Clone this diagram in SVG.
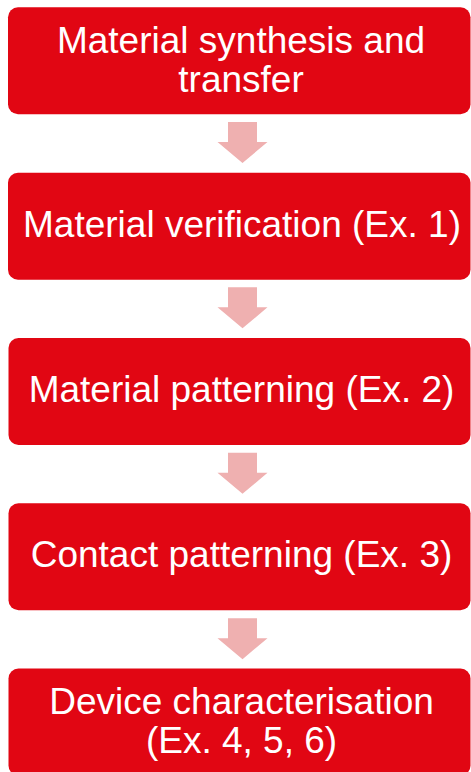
<svg xmlns="http://www.w3.org/2000/svg" width="471" height="772" viewBox="0 0 471 772">
  <style>
    .box { fill: #E10613; }
    .label { fill: #FFFFFF; font-family: "Liberation Sans", Arial, sans-serif; font-size: 37px; text-anchor: middle; }
    .arrow { fill: #EFB0B0; }
  </style>
  <defs>
    <polygon id="down-arrow" points="228,0 257,0 257,20 267.5,20 242.5,41 217.5,20 228,20"/>
  </defs>
  <rect width="471" height="772" fill="#FFFFFF"/>

  <!-- connectors between steps -->
  <g id="connectors">
    <use href="#down-arrow" class="arrow" transform="translate(0,122)"/>
    <use href="#down-arrow" class="arrow" transform="translate(0,287.3)"/>
    <use href="#down-arrow" class="arrow" transform="translate(0,452.8)"/>
    <use href="#down-arrow" class="arrow" transform="translate(0,618.2)"/>
  </g>

  <g id="step-synthesis">
    <rect class="box" x="8" y="7.3" width="462.5" height="107" rx="10"/>
    <text class="label" x="241" y="53.3">Material synthesis and</text>
    <text class="label" x="241" y="91.7">transfer</text>
  </g>

  <g id="step-verification">
    <rect class="box" x="8" y="172.7" width="462.5" height="107" rx="10"/>
    <text class="label" x="242" y="237.3">Material verification (Ex. 1)</text>
  </g>

  <g id="step-material-patterning">
    <rect class="box" x="8.5" y="338" width="462" height="107" rx="10"/>
    <text class="label" x="241.5" y="402">Material patterning (Ex. 2)</text>
  </g>

  <g id="step-contact-patterning">
    <rect class="box" x="8.5" y="503.3" width="462" height="107" rx="10"/>
    <text class="label" x="241.5" y="567">Contact patterning (Ex. 3)</text>
  </g>

  <g id="step-characterisation">
    <rect class="box" x="8.5" y="668.6" width="462" height="107" rx="10"/>
    <text class="label" x="241.5" y="714.3">Device characterisation</text>
    <text class="label" x="241.5" y="752.7">(Ex. 4, 5, 6)</text>
  </g>
</svg>
